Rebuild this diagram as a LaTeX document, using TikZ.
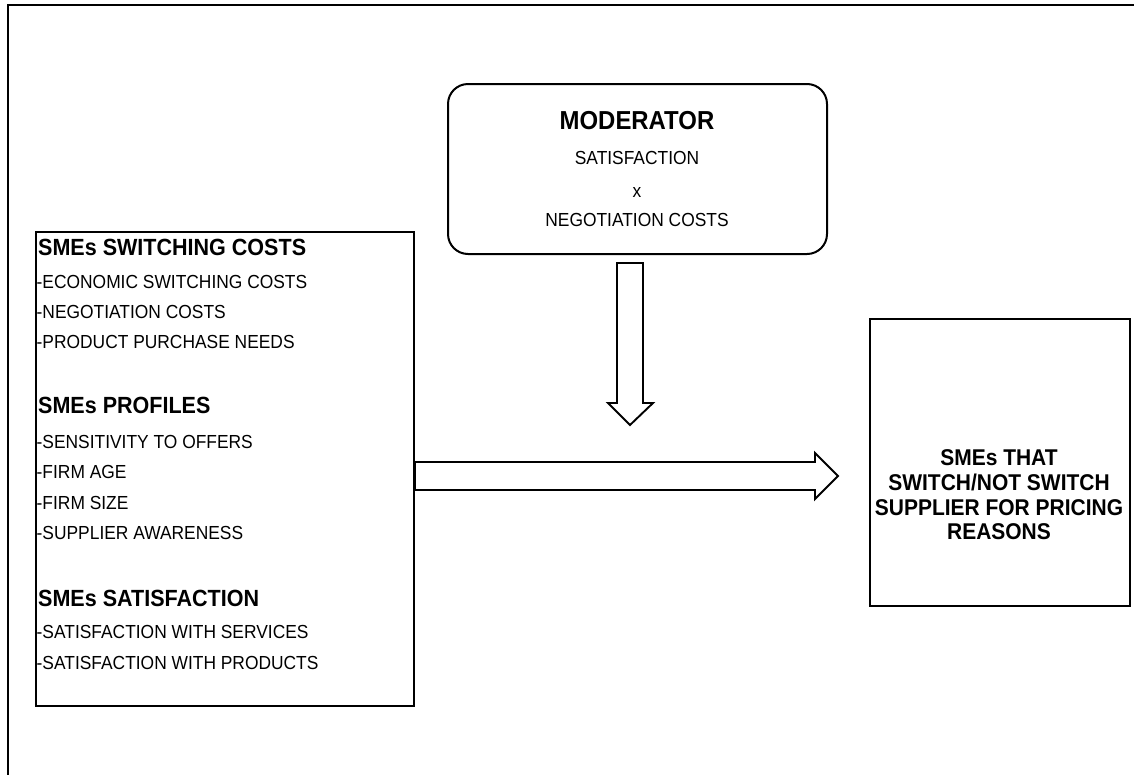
\documentclass[tikz,border=0pt]{standalone}
\usepackage{fontspec}
\setmainfont{Liberation Sans}[FakeStretch=0.92]
\begin{document}
\begin{tikzpicture}[x=1pt,y=-1pt,
  frame/.style={line width=2pt},
  box/.style={draw, line width=2pt, inner sep=0pt, anchor=north west},
  hollow/.style={draw, line width=1.9pt, fill=white, line join=miter},
  headtxt/.style={font=\fontsize{23.4}{27}\selectfont\bfseries, anchor=base west, inner sep=0pt},
  itemtxt/.style={font=\fontsize{18.9}{22}\selectfont, anchor=base west, inner sep=0pt},
  modtxt/.style={font=\fontsize{18.9}{22}\selectfont, anchor=base, inner sep=0pt},
]
\useasboundingbox (0,0) rectangle (1134,774);
% outer frame (clipped at right and bottom)
\draw[frame] (7.5,780) -- (7.5,5) -- (1140,5);

% boxes
\node[box, minimum width=378pt, minimum height=474pt] (left) at (35,231) {};
\node[box, rounded corners=20pt, minimum width=379pt, minimum height=170pt] (mod) at (447,83) {};
\node[box, minimum width=260pt, minimum height=287pt] (out) at (869,318) {};

% moderator text
\node[modtxt, font=\fontsize{26}{30}\selectfont\bfseries] (m1) at (637,129) {MODERATOR};
\node[modtxt] (m2) at (637,164.5) {SATISFACTION};
\node[modtxt] (m3) at (637,197) {x};
\node[modtxt] (m4) at (637,226.5) {NEGOTIATION COSTS};

% left box text
\node[headtxt] (h1) at (38,255.5) {SMEs SWITCHING COSTS};
\node[itemtxt] (i1) at (36.5,288.5) {-ECONOMIC SWITCHING COSTS};
\node[itemtxt] (i2) at (36.5,318.5) {-NEGOTIATION COSTS};
\node[itemtxt] (i3) at (36.5,348.5) {-PRODUCT PURCHASE NEEDS};
\node[headtxt] (h2) at (38,413.5) {SMEs PROFILES};
\node[itemtxt] (i4) at (36.5,448.5) {-SENSITIVITY TO OFFERS};
\node[itemtxt] (i5) at (36.5,478.5) {-FIRM AGE};
\node[itemtxt] (i6) at (36.5,509.5) {-FIRM SIZE};
\node[itemtxt] (i7) at (36.5,539.5) {-SUPPLIER AWARENESS};
\node[headtxt] (h3) at (38,606.5) {SMEs SATISFACTION};
\node[itemtxt] (i8) at (36.5,638.5) {-SATISFACTION WITH SERVICES};
\node[itemtxt] (i9) at (36.5,669.5) {-SATISFACTION WITH PRODUCTS};

% outcome text
\node[align=center, inner sep=0pt, font=\fontsize{22.8}{24.7}\selectfont\bfseries] (ot) at (999,495)
  {SMEs THAT\\SWITCH/NOT SWITCH\\SUPPLIER FOR PRICING\\REASONS};

% vertical hollow arrow from moderator
\coordinate (va) at (630,263);
\draw[hollow] ([xshift=-13pt]va) -- ([xshift=13pt]va) -- ([xshift=13pt,yshift=-140pt]va)
  -- ([xshift=23pt,yshift=-140pt]va) -- ([yshift=-162pt]va) -- ([xshift=-22pt,yshift=-140pt]va)
  -- ([xshift=-13pt,yshift=-140pt]va) -- cycle;

% horizontal hollow arrow from left box toward outcome
\coordinate (ha) at (left.east |- 0,476);
\draw[hollow] ([yshift=14pt]ha) -- ([xshift=400pt,yshift=14pt]ha) -- ([xshift=400pt,yshift=23pt]ha)
  -- ([xshift=423pt]ha) -- ([xshift=400pt,yshift=-23pt]ha) -- ([xshift=400pt,yshift=-14pt]ha)
  -- ([yshift=-14pt]ha) -- cycle;
\end{tikzpicture}
\end{document}
